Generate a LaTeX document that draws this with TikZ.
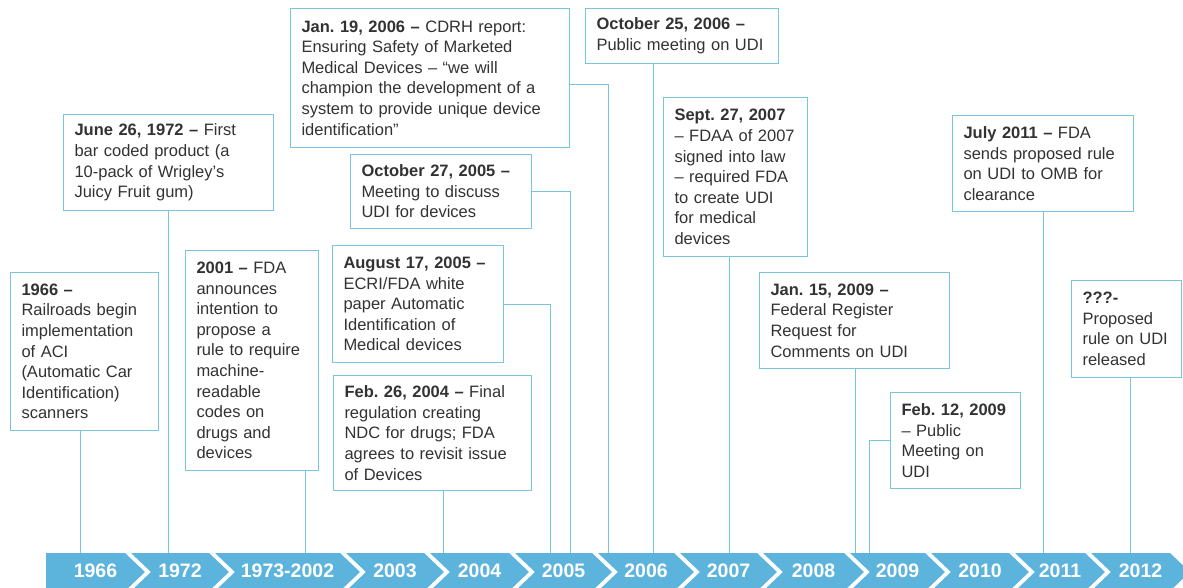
\documentclass[tikz,border=0pt]{standalone}
\usepackage{fontspec}
\setmainfont{Liberation Sans}
\usepackage{tikz}

\definecolor{linkblue}{RGB}{120,198,222}
\definecolor{barblue}{RGB}{92,180,220}
\definecolor{inkgray}{RGB}{50,50,50}

\frenchspacing

\begin{document}
\begin{tikzpicture}[
  x=1pt, y=-1pt,
  box/.style 2 args={draw=linkblue, line width=1pt, anchor=north west, align=left,
    inner xsep=11pt, inner ysep=6pt, text=inkgray, text width=#1, minimum height=#2,
    font=\fontsize{16.5}{20.6}\selectfont},
  link/.style={draw=linkblue, line width=1pt},
  yearlbl/.style={text=white, font=\fontsize{19.5}{22}\selectfont\bfseries}
]
\useasboundingbox (0,0) rectangle (1183,588);

% event boxes
\node[box={126pt}{158pt}] (b1966) at (10,272) {\textbf{1966 –}\\Railroads begin\\implementation\\of ACI\\(Automatic Car\\Identification)\\scanners};
\node[box={188pt}{96pt}] (b1972) at (63,114) {\textbf{June 26, 1972 –} First\\bar coded product (a\\10-pack of Wrigley’s\\Juicy Fruit gum)};
\node[box={111pt}{220pt}] (b2001) at (185,250) {\textbf{2001 –} FDA\\announces\\intention to\\propose a\\rule to require\\machine-\\readable\\codes on\\drugs and\\devices};
\node[box={176pt}{115pt}] (b2004) at (333,375) {\textbf{Feb. 26, 2004 –} Final\\regulation creating\\NDC for drugs; FDA\\agrees to revisit issue\\of Devices};
\node[box={149pt}{117pt}] (b2005a) at (332,245) {\textbf{August 17, 2005 –}\\ECRI/FDA white\\paper Automatic\\Identification of\\Medical devices};
\node[box={159pt}{74pt}] (b2005b) at (350,154) {\textbf{October 27, 2005 –}\\Meeting to discuss\\UDI for devices};
\node[box={257pt}{139pt}] (b2006a) at (290,8) {\textbf{Jan. 19, 2006 –} CDRH report:\\Ensuring Safety of Marketed\\Medical Devices – “we will\\champion the development of a\\system to provide unique device\\identification”};
\node[box={171pt}{55pt}] (b2006b) at (585,8) {\textbf{October 25, 2006 –}\\Public meeting on UDI};
\node[box={122pt}{159pt}] (b2007) at (663,97) {\textbf{Sept. 27, 2007}\\– FDAA of 2007\\signed into law\\– required FDA\\to create UDI\\for medical\\devices};
\node[box={168pt}{96pt}] (b2009a) at (759,272) {\textbf{Jan. 15, 2009 –}\\Federal Register\\Request for\\Comments on UDI};
\node[box={108pt}{96pt}] (b2009b) at (890,392) {\textbf{Feb. 12, 2009}\\– Public\\Meeting on\\UDI};
\node[box={159pt}{96pt}] (b2011) at (952,115) {\textbf{July 2011 –} FDA\\sends proposed rule\\on UDI to OMB for\\clearance};
\node[box={88pt}{97pt}] (b2012) at (1071,280) {\textbf{???-}\\Proposed\\rule on UDI\\released};

% where the links meet the bar
\coordinate (t1966) at (80,553);
\coordinate (t1972) at (168,553);
\coordinate (t2001) at (305,553);
\coordinate (t2004) at (443,553);
\coordinate (t2005a) at (550,553);
\coordinate (t2005b) at (570,553);
\coordinate (t2006a) at (608,553);
\coordinate (t2006b) at (653,553);
\coordinate (t2007) at (729,553);
\coordinate (t2009a) at (855,553);
\coordinate (t2009b) at (869,553);
\coordinate (t2011) at (1043,553);
\coordinate (t2012) at (1130,553);

\draw[link] (t1966 |- b1966.south) -- (t1966);
\draw[link] (t1972 |- b1972.south) -- (t1972);
\draw[link] (t2001 |- b2001.south) -- (t2001);
\draw[link] (t2004 |- b2004.south) -- (t2004);
\draw[link] (b2005a.east) -| (t2005a);
\draw[link] (b2005b.east) -| (t2005b);
\draw[link] ([yshift=-7pt]b2006a.east) -| (t2006a);
\draw[link] (t2006b |- b2006b.south) -- (t2006b);
\draw[link] (t2007 |- b2007.south) -- (t2007);
\draw[link] (t2009a |- b2009a.south) -- (t2009a);
\draw[link] (b2009b.west) -| (t2009b);
\draw[link] (t2011 |- b2011.south) -- (t2011);
\draw[link] (t2012 |- b2012.south) -- (t2012);

% chevron timeline
\foreach \l/\r/\yr [count=\i] in {43/128/1966, 128/212/1972, 212/343/1973-2002,
    343/427/2003, 427/512/2004, 512/595/2005, 595/677/2006, 677/760/2007,
    760/847/2008, 847/928/2009, 928/1012/2010, 1012/1088/2011, 1088/1173/2012}{
  \pgfmathsetmacro{\nd}{\i==1 ? 0 : 20}
  \fill[barblue] (\l+3,553) -- (\r-3,553) -- (\r+17,572) -- (\r-3,591)
    -- (\l+3,591) -- (\l+3+\nd,572) -- cycle;
  \node[yearlbl] (y\i) at ({(\l+\r)/2+10},571) {\yr};
}
\end{tikzpicture}
\end{document}
